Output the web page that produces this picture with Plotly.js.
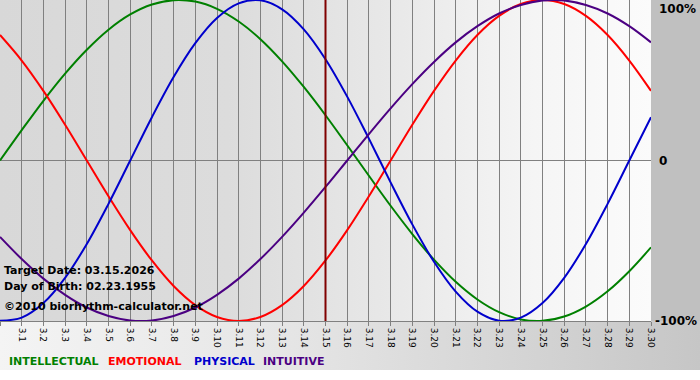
<!DOCTYPE html>
<html>
<head>
<meta charset="utf-8">
<script src="https://cdn.plot.ly/plotly-3.0.1.min.js"></script>
<style>
  html, body { margin: 0; padding: 0; background: #ffffff; }
  #wrap { position: relative; width: 700px; height: 380px; overflow: hidden; }
  .bg { position: absolute; z-index: 0; }
  #plotbg { left: 0; top: 0; width: 651px; height: 321px;
    background: linear-gradient(to right, #d8d8d8 0%, #dcdcdc 35%, #e8e8e8 60%, #f5f5f5 82%, #fbfbfb 100%); }
  #rightbg { left: 651px; top: 0; width: 49px; height: 321px; background: #c0c0c0; }
  #bottombg { left: 0; top: 321px; width: 700px; height: 49px;
    background: linear-gradient(to right, #f4f4f4 0%, #e6e6e6 40%, #d4d4d4 75%, #c6c6c6 100%); }
  #chart { position: absolute; left: 0; top: 0; width: 700px; height: 380px; z-index: 1; }
</style>
</head>
<body>
<div id="wrap">
  <div class="bg" id="plotbg"></div>
  <div class="bg" id="rightbg"></div>
  <div class="bg" id="bottombg"></div>
  <div id="chart"></div>
</div>
<script>
// Day labels (2.28 .. 3.30)
const days = ['2.28','3.1','3.2','3.3','3.4','3.5','3.6','3.7','3.8','3.9','3.10',
  '3.11','3.12','3.13','3.14','3.15','3.16','3.17','3.18','3.19','3.20',
  '3.21','3.22','3.23','3.24','3.25','3.26','3.27','3.28','3.29','3.30'];

// Series values (fraction of 100%), one per day
const intellectual = [0, 0.189, 0.372, 0.541, 0.690, 0.815, 0.910, 0.972, 0.999, 0.990, 0.945,
  0.866, 0.756, 0.618, 0.458, 0.282, 0.095, -0.095, -0.282, -0.458, -0.618,
  -0.756, -0.866, -0.945, -0.990, -0.999, -0.972, -0.910, -0.815, -0.690, -0.541];
const emotional = [0.782, 0.623, 0.434, 0.223, 0, -0.223, -0.434, -0.623, -0.782, -0.901, -0.975,
  -1.0, -0.975, -0.901, -0.782, -0.623, -0.434, -0.223, 0, 0.223, 0.434,
  0.623, 0.782, 0.901, 0.975, 1.0, 0.975, 0.901, 0.782, 0.623, 0.434];
const physical = [-0.998, -0.979, -0.888, -0.731, -0.520, -0.270, 0, 0.270, 0.520, 0.731, 0.888,
  0.979, 0.998, 0.942, 0.817, 0.631, 0.398, 0.136, -0.136, -0.398, -0.631,
  -0.817, -0.942, -0.998, -0.979, -0.888, -0.731, -0.520, -0.270, 0, 0.270];
const intuitive = [-0.476, -0.614, -0.736, -0.837, -0.916, -0.969, -0.997, -0.997, -0.969, -0.916, -0.837,
  -0.736, -0.614, -0.476, -0.325, -0.165, 0, 0.165, 0.325, 0.476, 0.614,
  0.736, 0.837, 0.916, 0.969, 0.997, 0.997, 0.969, 0.916, 0.837, 0.736];

const seriesNames = ['INTELLECTUAL', 'EMOTIONAL', 'PHYSICAL', 'INTUITIVE'];
const seriesColors = ['#008000', '#ff0000', '#0000cc', '#4b0082'];
const seriesData = [intellectual, emotional, physical, intuitive];
const legendX = [7, 106, 192, 261];

const targetDay = '3.15';
const infoLines = ['Target Date: 03.15.2026', 'Day of Birth: 02.23.1955', '\u00a92010 biorhythm-calculator.net'];
const infoY = [270, 286, 306];
const yTickText = ['100%', '0', '-100%'];

const FONT = 'Verdana, "DejaVu Sans", sans-serif';
const PW = 651, PH = 321;

const xIdx = days.map((d, i) => i);

const traces = seriesData.map((vals, i) => ({
  type: 'scatter', mode: 'lines', x: xIdx, y: vals, name: seriesNames[i],
  line: { color: seriesColors[i], width: 2, shape: 'spline', smoothing: 1 },
  hoverinfo: 'skip'
}));

const annotations = [];
seriesNames.forEach((n, i) => {
  annotations.push({
    text: '<b>' + n + '</b>', xref: 'paper', yref: 'paper',
    x: legendX[i] / PW, y: 0, yshift: -40, xanchor: 'left', yanchor: 'middle',
    showarrow: false, font: { family: FONT, size: 11, color: seriesColors[i] }
  });
});
infoLines.forEach((t, i) => {
  annotations.push({
    text: '<b>' + t + '</b>', xref: 'paper', yref: 'paper',
    x: 2 / PW, y: (PH - infoY[i]) / PH, xanchor: 'left', yanchor: 'middle',
    showarrow: false, font: { family: FONT, size: 11, color: '#000000' }
  });
});
annotations.push({ text: '<b>' + yTickText[0] + '</b>', xref: 'paper', yref: 'paper', x: 1, xshift: 6, y: 1,
  xanchor: 'left', yanchor: 'top', showarrow: false, font: { family: FONT, size: 12, color: '#000' } });
annotations.push({ text: '<b>' + yTickText[1] + '</b>', xref: 'paper', yref: 'paper', x: 1, xshift: 6, y: 0.5,
  xanchor: 'left', yanchor: 'middle', showarrow: false, font: { family: FONT, size: 12, color: '#000' } });
annotations.push({ text: '<b>' + yTickText[2] + '</b>', xref: 'paper', yref: 'paper', x: 1, xshift: 2, y: 0,
  xanchor: 'left', yanchor: 'middle', showarrow: false, font: { family: FONT, size: 12, color: '#000' } });

const tIdx = days.indexOf(targetDay);

const layout = {
  width: 700, height: 380,
  margin: { l: 0, r: 49, t: 0, b: 59, pad: 0 },
  paper_bgcolor: 'rgba(0,0,0,0)', plot_bgcolor: 'rgba(0,0,0,0)',
  showlegend: false,
  xaxis: {
    range: [0, days.length - 1], tickvals: xIdx, ticktext: days, tickangle: 90,
    showgrid: true, gridcolor: '#808080', gridwidth: 1,
    ticks: 'outside', ticklen: 4, tickcolor: '#808080',
    showline: true, linecolor: '#808080', linewidth: 1, mirror: true,
    zeroline: false, fixedrange: true,
    tickfont: { family: FONT, size: 9, color: '#000' }
  },
  yaxis: {
    range: [-1, 1], showgrid: false, showticklabels: false, ticks: '',
    zeroline: true, zerolinecolor: '#808080', zerolinewidth: 1,
    showline: false, fixedrange: true
  },
  shapes: [{
    type: 'line', xref: 'x', yref: 'paper', x0: tIdx, x1: tIdx, y0: 0, y1: 1,
    line: { color: '#800000', width: 2 }, layer: 'above'
  }],
  annotations: annotations
};

Plotly.newPlot('chart', traces, layout, { staticPlot: true, displayModeBar: false });
</script>
</body>
</html>
